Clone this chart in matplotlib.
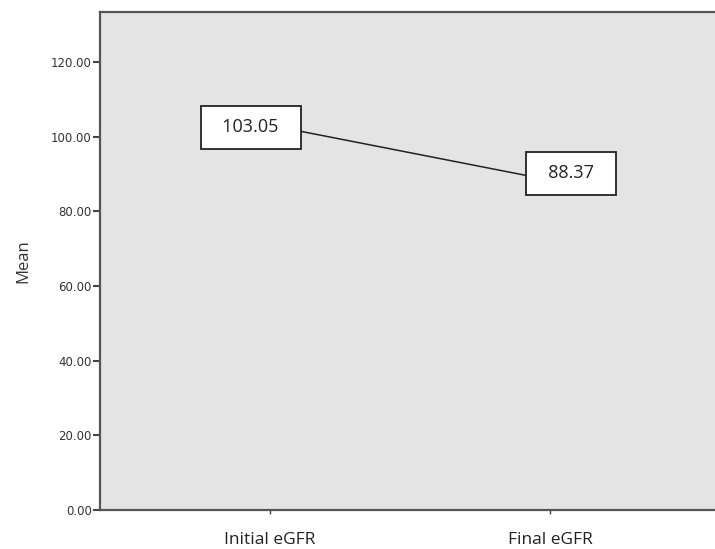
import matplotlib.pyplot as plt
import numpy as np

categories = ["Initial eGFR", "Final eGFR"]
means = [103.05, 88.37]
yticks = [0, 20, 40, 60, 80, 100, 120]

fig = plt.figure(figsize=(7.15, 5.49), dpi=100)
ax = fig.add_axes([100/715, 1 - 510/549, 1 - 100/715, 498/549])
ax.set_facecolor("#e4e4e4")

x = np.arange(len(categories))
ax.plot(x, means, color="#222222", lw=1.1, zorder=2)

# label boxes (offset from points, in points)
offsets = [(-14, -1.5), (15, 5)]
for xi, m, off in zip(x, means, offsets):
    ax.annotate("  %.2f  " % m, (xi, m), xytext=off, textcoords="offset points",
                ha="center", va="center", fontsize=13, family="Open Sans",
                color="#222222", zorder=3,
                bbox=dict(boxstyle="square,pad=0.7", fc="white", ec="#222222", lw=1.3))

ax.set_xlim(-0.607, 1.589)
ax.set_ylim(0, 133.4)
ax.set_xticks(x)
ax.set_xticklabels(categories, fontsize=12.5, family="Open Sans", color="#222222")
ax.set_yticks(yticks)
ax.set_yticklabels(["%.2f" % v for v in yticks], fontsize=8.5, color="#333333")
ax.tick_params(axis="y", length=5, width=1.5, color="#444444", pad=1)
ax.tick_params(axis="x", length=3, width=1.0, color="#444444", pad=13)

ax.set_ylabel("Mean", fontsize=12, family="Open Sans", color="#333333", labelpad=14)

for s in ["left", "top", "bottom"]:
    ax.spines[s].set_color("#555555")
    ax.spines[s].set_linewidth(1.6)
ax.spines["right"].set_visible(False)

plt.savefig("out.png", dpi=100)
